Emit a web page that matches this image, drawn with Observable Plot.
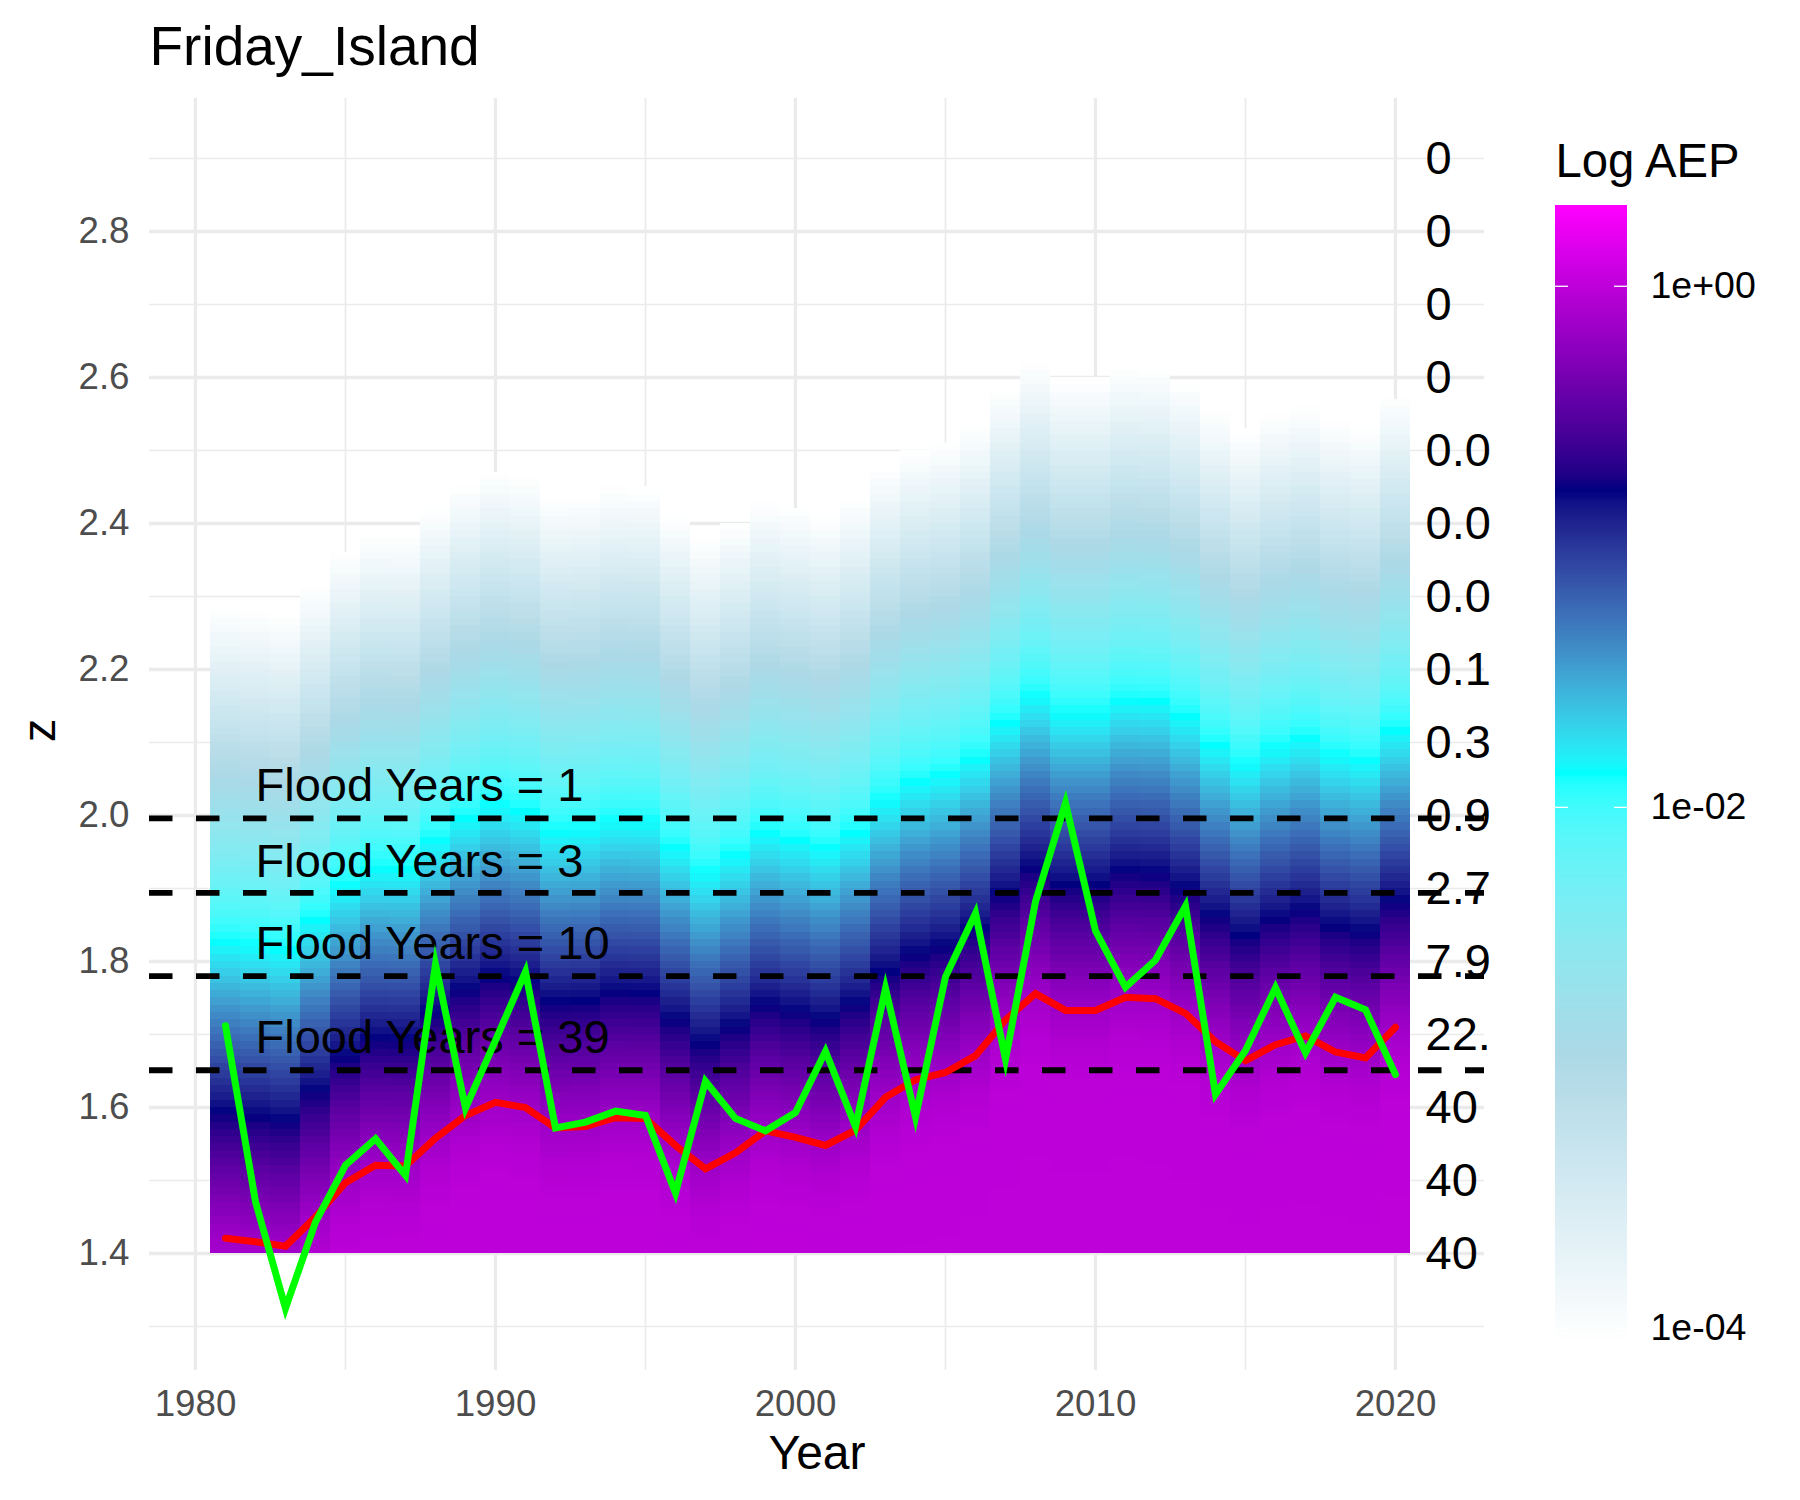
<!DOCTYPE html>
<html>
<head>
<meta charset="utf-8">
<script src="https://cdn.jsdelivr.net/npm/d3@7"></script>
<script src="https://cdn.jsdelivr.net/npm/@observablehq/plot@0.6"></script>
<style>
  html, body { margin: 0; padding: 0; background: #ffffff; }
  #wrap { position: relative; width: 1800px; height: 1500px; overflow: hidden; background: #ffffff; }
  #main { position: absolute; left: 0; top: 0; }
  #legend { position: absolute; left: 1555px; top: 205px; }
</style>
</head>
<body>
<div id="wrap"><div id="main"></div><div id="legend"></div></div>
<script>
// ---------------- data ----------------
const years = [1981,1982,1983,1984,1985,1986,1987,1988,1989,1990,
               1991,1992,1993,1994,1995,1996,1997,1998,1999,2000,
               2001,2002,2003,2004,2005,2006,2007,2008,2009,2010,
               2011,2012,2013,2014,2015,2016,2017,2018,2019,2020];
// red line: location of the fitted distribution per year (z)
const locationZ = [1.421,1.416,1.410,1.450,1.497,1.521,1.520,1.558,1.589,1.607,
                   1.600,1.572,1.574,1.586,1.585,1.548,1.516,1.538,1.568,1.559,
                   1.548,1.569,1.614,1.638,1.648,1.671,1.720,1.756,1.733,1.733,
                   1.751,1.749,1.729,1.690,1.664,1.686,1.698,1.676,1.668,1.710];
// green line: observed annual maximum (z)
const annualMaxZ = [1.712,1.471,1.325,1.443,1.521,1.557,1.507,1.796,1.599,1.692,
                    1.786,1.572,1.580,1.595,1.589,1.483,1.636,1.585,1.568,1.593,
                    1.677,1.574,1.763,1.587,1.779,1.866,1.666,1.882,2.017,1.842,
                    1.765,1.802,1.876,1.618,1.678,1.764,1.675,1.751,1.734,1.645];
// AEP profile above the yearly location: offset in z  ->  log10(AEP)
const profileOffset = [-0.25,-0.15,-0.10,-0.05,0.00,0.05,0.10,0.17,0.29,0.405,0.52,0.635,0.75,0.862];
const profileLog10  = [0.000,-0.002,-0.012,-0.058,-0.155,-0.30,-0.48,-0.775,-1.31,-1.866,-2.40,-2.96,-3.50,-4.05];
const gridBaseZ = 1.40;
const gridStepZ = 0.01;

// flood thresholds
const floodLevelZ = [1.996, 1.894, 1.780, 1.651];
const floodLabelZ = [2.040, 1.937, 1.824, 1.695];
const floodLabels = ["Flood Years = 1", "Flood Years = 3", "Flood Years = 10", "Flood Years = 39"];
const floodLabelYear = 1982;

// expected flood years at each level (right-hand column)
const levelZ = [2.9,2.8,2.7,2.6,2.5,2.4,2.3,2.2,2.1,2.0,1.9,1.8,1.7,1.6,1.5,1.4];
const levelLabels = ["0","0","0","0","0.0","0.0","0.0","0.1","0.3","0.9","2.7","7.9","22.","40","40","40"];
const levelLabelYear = 2021;

// axes
const majorYears = [1980,1990,2000,2010,2020];
const minorYears = [1985,1995,2005,2015];
const majorZ = [1.4,1.6,1.8,2.0,2.2,2.4,2.6,2.8];
const minorZ = [1.3,1.5,1.7,1.9,2.1,2.3,2.5,2.7,2.9];

// colour legend
const aepLimits = [Math.pow(10,-4.05), Math.pow(10,0.31)];
const aepTicks = [1, 0.01, 0.0001];
const aepTickLabels = ["1e+00", "1e-02", "1e-04"];
const aepColours = ["white", "lightblue", "cyan", "navy", "magenta"];

// ---------------- tables built from the arrays ----------------
const profile = d3.scaleLinear().domain(profileOffset).range(profileLog10).clamp(true);
const maxOffset = profileOffset[profileOffset.length - 1];
const cells = [];
years.forEach((yr, i) => {
  for (let k = 0; ; k++) {
    const z1 = gridBaseZ + k * gridStepZ;
    const zc = z1 + gridStepZ / 2;
    const d = zc - locationZ[i];
    if (d > maxOffset) break;
    cells.push({x1: yr - 0.5, x2: yr + 0.5, y1: z1, y2: z1 + gridStepZ, aep: Math.pow(10, profile(d))});
  }
});
const locTable = years.map((yr, i) => ({year: yr, z: locationZ[i]}));
const maxTable = years.map((yr, i) => ({year: yr, z: annualMaxZ[i]}));
const floodTable = floodLabels.map((t, i) => ({text: t, z: floodLabelZ[i]}));
const levelTable = levelLabels.map((t, i) => ({text: t, z: levelZ[i]}));

const colourScale = {
  type: "log",
  domain: aepLimits,
  interpolate: d3.piecewise(d3.interpolateLab, aepColours)
};

const FONT = "'Liberation Sans', Arial, sans-serif";
const GRID = "#EBEBEB";

const main = Plot.plot({
  width: 1800, height: 1500,
  marginLeft: 149, marginRight: 316, marginTop: 98, marginBottom: 130,
  x: {domain: [1978.467, 2022.967], label: null},
  y: {domain: [1.2397, 2.9822], label: null},
  color: colourScale,
  style: {fontFamily: FONT, fontSize: "36.7px", background: "white", overflow: "visible"},
  marks: [
    Plot.ruleX(minorYears, {stroke: GRID, strokeWidth: 1.7}),
    Plot.ruleY(minorZ, {stroke: GRID, strokeWidth: 1.7}),
    Plot.ruleX(majorYears, {stroke: GRID, strokeWidth: 3.3}),
    Plot.ruleY(majorZ, {stroke: GRID, strokeWidth: 3.3}),
    Plot.rect(cells, {x1: "x1", x2: "x2", y1: "y1", y2: "y2", fill: "aep", shapeRendering: "crispEdges"}),
    Plot.text(levelTable, {x: levelLabelYear, y: "z", text: "text", textAnchor: "start", fontSize: 47, fill: "black"}),
    Plot.text(floodTable, {x: floodLabelYear, y: "z", text: "text", textAnchor: "start", fontSize: 47, fill: "black"}),
    Plot.ruleY(floodLevelZ, {stroke: "black", strokeWidth: 5.9, strokeDasharray: "23.5,23.5"}),
    Plot.line(locTable, {x: "year", y: "z", stroke: "#FF0000", strokeWidth: 7, strokeLinejoin: "miter", strokeMiterlimit: 10}),
    Plot.line(maxTable, {x: "year", y: "z", stroke: "#00FF00", strokeWidth: 7, strokeLinejoin: "miter", strokeMiterlimit: 10}),
    Plot.axisY(majorZ, {anchor: "left", tickSize: 0, tickPadding: 20, fontSize: 36.7, color: "#4D4D4D", fill: "#4D4D4D", tickFormat: d3.format(".1f"), label: null}),
    Plot.axisX(majorYears, {anchor: "bottom", tickSize: 0, tickPadding: 19, fontSize: 36.7, color: "#4D4D4D", fill: "#4D4D4D", tickFormat: d => String(d), label: null}),
    Plot.text(["Year"], {frameAnchor: "bottom", text: d => d, textAnchor: "middle", lineAnchor: "bottom", dy: 98, fontSize: 48, fill: "black"}),
    Plot.text(["z"], {frameAnchor: "left", text: d => d, textAnchor: "middle", lineAnchor: "middle", rotate: -90, dx: -110, dy: -4, fontSize: 47, fill: "black"}),
    Plot.text(["Friday_Island"], {frameAnchor: "top-left", text: d => d, textAnchor: "start", lineAnchor: "bottom", dy: -34, fontSize: 55, fill: "black"})
  ]
});
document.getElementById("main").appendChild(main);

// ---------------- colour bar legend ----------------
const N = 400;
const L0 = Math.log10(aepLimits[0]), L1 = Math.log10(aepLimits[1]);
const ramp = d3.range(N).map(i => {
  const a = L0 + (L1 - L0) * i / N, b = L0 + (L1 - L0) * (i + 1.3) / N;
  return {lo: Math.pow(10, a), hi: Math.pow(10, Math.min(b, L1)), mid: Math.pow(10, (a + Math.min(b, L1)) / 2)};
});
const legend = Plot.plot({
  width: 245, height: 1136,
  marginLeft: 0, marginRight: 173, marginTop: 0, marginBottom: 0,
  x: {domain: [0, 1], axis: null},
  y: {type: "log", domain: aepLimits, label: null},
  color: colourScale,
  style: {fontFamily: FONT, fontSize: "36.7px", background: "transparent", overflow: "visible"},
  marks: [
    Plot.rect(ramp, {x1: 0, x2: 1, y1: "lo", y2: "hi", fill: "mid", shapeRendering: "crispEdges"}),
    Plot.ruleY(aepTicks, {x1: 0, x2: 0.18, stroke: "white", strokeWidth: 1.3}),
    Plot.ruleY(aepTicks, {x1: 0.82, x2: 1, stroke: "white", strokeWidth: 1.3}),
    Plot.axisY(aepTicks, {anchor: "right", tickSize: 0, tickPadding: 23, fontSize: 37.5, color: "black", fill: "black",
      tickFormat: d => aepTickLabels[aepTicks.indexOf(d)], label: null}),
    Plot.text(["Log AEP"], {frameAnchor: "top-left", text: d => d, textAnchor: "start", lineAnchor: "bottom", dy: -29, fontSize: 47.3, fill: "black"})
  ]
});
document.getElementById("legend").appendChild(legend);
</script>
</body>
</html>
